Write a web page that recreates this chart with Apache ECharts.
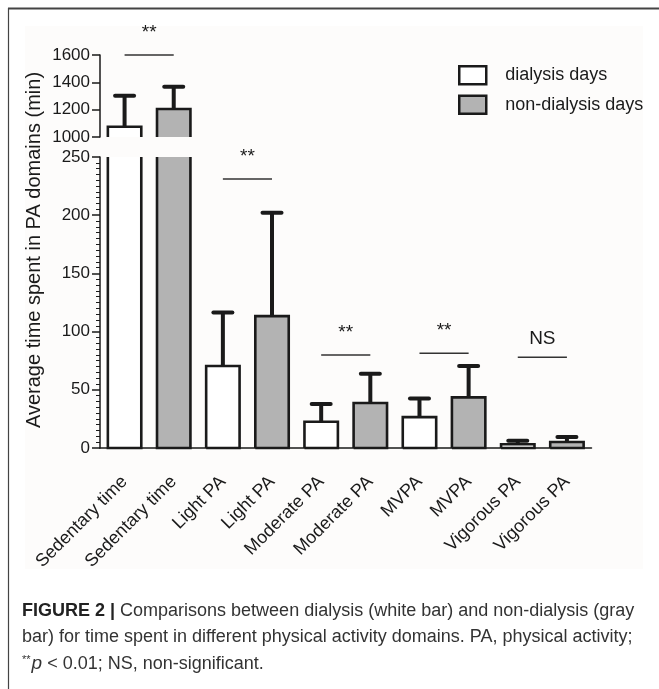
<!DOCTYPE html>
<html>
<head>
<meta charset="utf-8">
<script src="https://cdn.jsdelivr.net/npm/echarts@6/dist/echarts.min.js"></script>
<style>
html,body{margin:0;padding:0;background:#fff;}
#chart{width:659px;height:689px;}
</style>
</head>
<body>
<div id="chart"></div>
<script>
// ---------- data ----------
const categories = ['Sedentary time','Sedentary time','Light PA','Light PA','Moderate PA','Moderate PA','MVPA','MVPA','Vigorous PA','Vigorous PA'];
const dialysisMean = [1075, 70.5, 22.6, 26.5, 3.2];
const dialysisSD   = [227, 46, 15.2, 16.1, 3.1];
const nonDialysisMean = [1205, 113.3, 38.6, 43.5, 5.2];
const nonDialysisSD   = [163, 88.7, 25.2, 26.9, 4.2];
const upperRange = [1000, 1600];
const lowerRange = [0, 250];
const sigLevel = [1600, 231, 80, 81.5, 78];
const sigText  = ['**', '**', '**', '**', 'NS'];
const seriesNames = ['dialysis days', 'non-dialysis days'];
const yTitle = 'Average time spent in PA domains (min)';

// ---------- styles ----------
const FONT = 'Liberation Sans, Arial, sans-serif';
const INK = '#1a1a1a';
const GRAY = '#b3b3b3';
const CAP = 18;

function buildData(means, sds, offset) {
  return means.map((m, k) => [2 * k + offset, m, sds[k]]);
}

function barRenderer(range, fill) {
  return function (params, api) {
    const idx = api.value(0), mean = api.value(1), sd = api.value(2);
    if (mean <= range[0]) return null;
    const band = api.size([1, 0])[0];
    const w = band * 0.68;
    const base = api.coord([idx, range[0]]);
    const cx = base[0], yBase = base[1];
    const openTop = mean > range[1];
    const openBottom = range[0] > 0;
    const yTop = api.coord([idx, Math.min(mean, range[1])])[1];
    const xl = cx - w / 2, xr = cx + w / 2;
    const children = [];
    children.push({type: 'rect', shape: {x: xl, y: yTop, width: w, height: yBase - yTop}, style: {fill: fill}});
    let pts;
    if (openTop) pts = [[xl, yTop], [xl, yBase], [xr, yBase], [xr, yTop]];
    else if (openBottom) pts = [[xl, yBase], [xl, yTop], [xr, yTop], [xr, yBase]];
    else pts = [[xl, yBase], [xl, yTop], [xr, yTop], [xr, yBase], [xl, yBase]];
    children.push({type: 'polyline', shape: {points: pts}, style: {stroke: INK, lineWidth: 2.6, fill: null, lineJoin: 'miter'}});
    if (!openTop && mean + sd <= range[1]) {
      const yErr = api.coord([idx, mean + sd])[1];
      children.push({type: 'line', shape: {x1: cx, y1: yTop, x2: cx, y2: yErr}, style: {stroke: INK, lineWidth: 4}});
      children.push({type: 'line', shape: {x1: cx - 9.5, y1: yErr, x2: cx + 9.5, y2: yErr}, style: {stroke: INK, lineWidth: 4, lineCap: 'round'}});
    }
    return {type: 'group', children: children};
  };
}

function sigRenderer(params, api) {
  const i = api.value(0), lvl = api.value(1), t = api.value(2);
  const p1 = api.coord([i, lvl]), p2 = api.coord([i + 1, lvl]);
  const label = sigText[t];
  const isNS = label === 'NS';
  return {type: 'group', children: [
    {type: 'line', shape: {x1: p1[0], y1: p1[1], x2: p2[0], y2: p2[1]}, style: {stroke: '#333', lineWidth: 1.5}},
    {type: 'text', x: (p1[0] + p2[0]) / 2, y: p1[1] - (isNS ? 9 : 13),
     style: {text: label, align: 'center', verticalAlign: 'bottom', fontSize: 19, fontFamily: FONT, fill: INK}}
  ]};
}

const sigUpper = [], sigLower = [];
sigLevel.forEach((lvl, k) => {
  (lvl >= upperRange[0] ? sigUpper : sigLower).push([2 * k, lvl, k]);
});

const chart = echarts.init(document.getElementById('chart'), null, {renderer: 'canvas'});

const yAxisCommon = {
  type: 'value',
  splitLine: {show: false},
  axisLine: {show: true, lineStyle: {color: INK, width: 1.5}},
  axisTick: {show: true, length: 8, lineStyle: {color: INK, width: 1.5}},
  axisLabel: {fontSize: 17, color: INK, fontFamily: FONT, margin: 10, formatter: v => String(v)}
};

chart.setOption({
  animation: false,
  backgroundColor: '#fff',
  textStyle: {fontFamily: FONT},
  graphic: [
    {type: 'rect', shape: {x: 25, y: 26, width: 618, height: 543}, style: {fill: '#fdfcfb'}, z: -10},
    {type: 'line', shape: {x1: 8, y1: 8.5, x2: 659, y2: 8.5}, style: {stroke: '#444', lineWidth: 2}},
    {type: 'line', shape: {x1: 8.5, y1: 8, x2: 8.5, y2: 689}, style: {stroke: '#444', lineWidth: 1.2}},
    {type: 'text', x: 34, y: 250, rotation: Math.PI / 2,
     style: {text: yTitle, align: 'center', verticalAlign: 'middle', fontSize: 20, fontFamily: FONT, fill: INK}},
    {type: 'text', x: 22, y: 611,
     style: {text: '{b|FIGURE 2 |} Comparisons between dialysis (white bar) and non-dialysis (gray',
       verticalAlign: 'middle', fontSize: CAP, fontFamily: FONT, fill: '#333',
       rich: {b: {fontWeight: 'bold', fontSize: CAP, fontFamily: FONT, fill: '#222'}}}},
    {type: 'text', x: 22, y: 637,
     style: {text: 'bar) for time spent in different physical activity domains. PA, physical activity;',
       verticalAlign: 'middle', fontSize: CAP, fontFamily: FONT, fill: '#333'}},
    {type: 'text', x: 22, y: 664,
     style: {text: '{s|**}{i|p} < 0.01; NS, non-significant.',
       verticalAlign: 'middle', fontSize: CAP, fontFamily: FONT, fill: '#333',
       rich: {s: {fontSize: 11, verticalAlign: 'top', fontFamily: FONT, fill: '#333', padding: [0, 1, 7, 0]},
              i: {fontStyle: 'italic', fontSize: CAP + 1, fontFamily: FONT, fill: '#333'}}}}
  ],
  legend: {
    orient: 'vertical', left: 458, top: 65, padding: 0,
    itemWidth: 27, itemHeight: 18, itemGap: 9,
    textStyle: {fontSize: 18, color: INK, fontFamily: FONT, padding: [0, 0, 0, 14]},
    data: [
      {name: seriesNames[0], icon: 'rect', itemStyle: {color: '#fff', borderColor: INK, borderWidth: 2.5}},
      {name: seriesNames[1], icon: 'rect', itemStyle: {color: GRAY, borderColor: INK, borderWidth: 2.5}}
    ]
  },
  grid: [
    {left: 100, right: 67.5, top: 55, height: 82},
    {left: 100, right: 67.5, top: 157, height: 291}
  ],
  xAxis: [
    {gridIndex: 0, type: 'category', data: categories, show: false},
    {gridIndex: 1, type: 'category', data: categories,
     axisLine: {lineStyle: {color: INK, width: 1.5}},
     axisTick: {alignWithLabel: true, length: 7, lineStyle: {color: INK, width: 1.5}},
     axisLabel: {rotate: 45, interval: 0, fontSize: 18, color: INK, fontFamily: FONT, margin: 31}}
  ],
  yAxis: [
    Object.assign({}, yAxisCommon, {gridIndex: 0, min: upperRange[0], max: upperRange[1], interval: 200}),
    Object.assign({}, yAxisCommon, {gridIndex: 1, min: lowerRange[0], max: lowerRange[1], interval: 50,
      minorTick: {show: true, splitNumber: 10, length: 4, lineStyle: {color: INK, width: 1}}})
  ],
  series: [
    {type: 'custom', name: seriesNames[0], xAxisIndex: 0, yAxisIndex: 0, clip: false,
     renderItem: barRenderer(upperRange, '#fff'), encode: {x: 0, y: 1}, data: buildData(dialysisMean, dialysisSD, 0),
     itemStyle: {color: '#fff', borderColor: INK}},
    {type: 'custom', name: seriesNames[1], xAxisIndex: 0, yAxisIndex: 0, clip: false,
     renderItem: barRenderer(upperRange, GRAY), encode: {x: 0, y: 1}, data: buildData(nonDialysisMean, nonDialysisSD, 1),
     itemStyle: {color: GRAY, borderColor: INK}},
    {type: 'custom', name: seriesNames[0], xAxisIndex: 1, yAxisIndex: 1, clip: false,
     renderItem: barRenderer(lowerRange, '#fff'), encode: {x: 0, y: 1}, data: buildData(dialysisMean, dialysisSD, 0),
     itemStyle: {color: '#fff', borderColor: INK}},
    {type: 'custom', name: seriesNames[1], xAxisIndex: 1, yAxisIndex: 1, clip: false,
     renderItem: barRenderer(lowerRange, GRAY), encode: {x: 0, y: 1}, data: buildData(nonDialysisMean, nonDialysisSD, 1),
     itemStyle: {color: GRAY, borderColor: INK}},
    {type: 'custom', name: 'sigUpper', xAxisIndex: 0, yAxisIndex: 0, clip: false,
     renderItem: sigRenderer, encode: {x: 0, y: 1}, data: sigUpper},
    {type: 'custom', name: 'sigLower', xAxisIndex: 1, yAxisIndex: 1, clip: false,
     renderItem: sigRenderer, encode: {x: 0, y: 1}, data: sigLower}
  ]
});
</script>
</body>
</html>
